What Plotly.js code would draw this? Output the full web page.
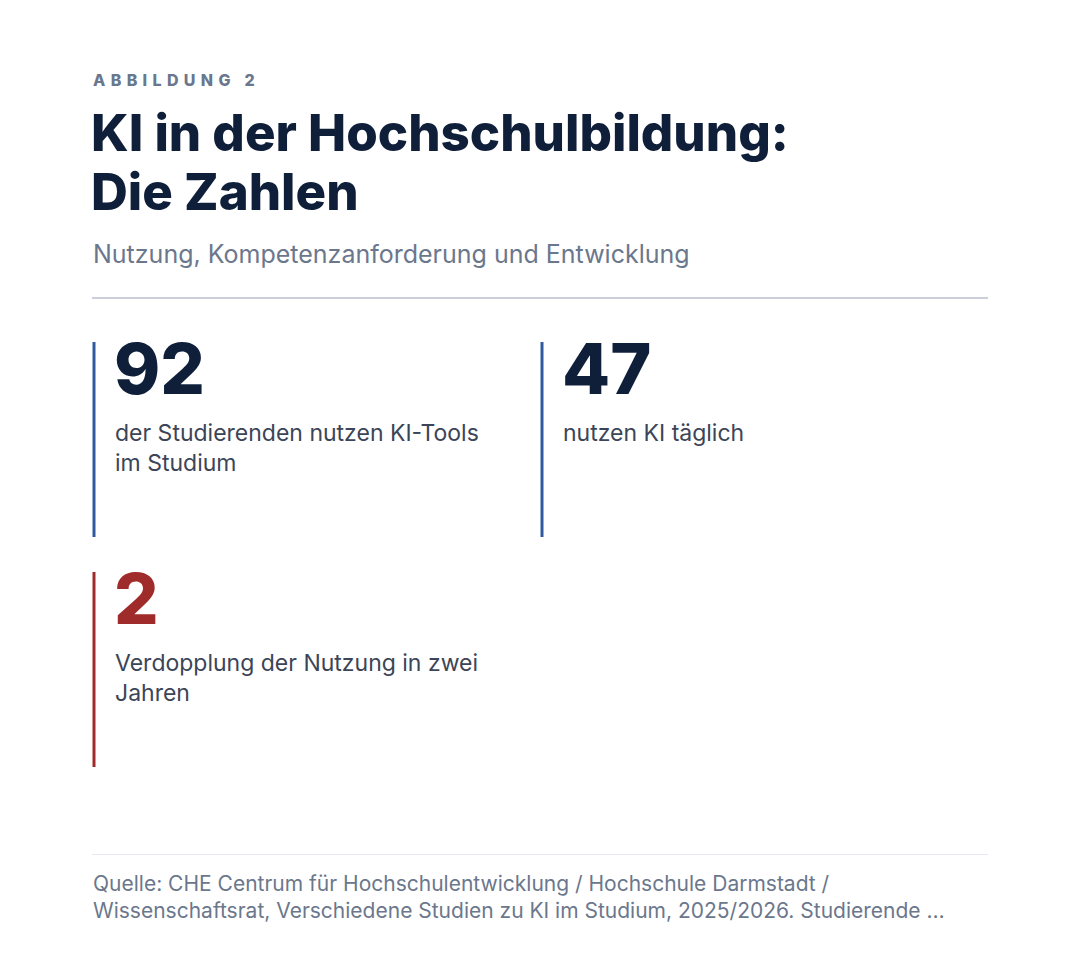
<!DOCTYPE html>
<html>
<head>
<meta charset="utf-8">
<script src="https://cdn.plot.ly/plotly-3.0.1.min.js"></script>
<style>
  html, body { margin: 0; padding: 0; background: #fff; }
  #chart { width: 1080px; height: 958px; }
</style>
</head>
<body>
<div id="chart"></div>
<script>
// figure texts
const kicker = "ABBILDUNG 2";
const titleLines = ["KI in der Hochschulbildung:", "Die Zahlen"];
const subtitle = "Nutzung, Kompetenzanforderung und Entwicklung";
const sourceLines = [
  "Quelle: CHE Centrum für Hochschulentwicklung / Hochschule Darmstadt /",
  "Wissenschaftsrat, Verschiedene Studien zu KI im Studium, 2025/2026. Studierende …",
];

// key figures
const kpiValues = [92, 47, 2];
const kpiLabels = [
  "der Studierenden nutzen KI-Tools<br>im Studium",
  "nutzen KI täglich",
  "Verdopplung der Nutzung in zwei<br>Jahren",
];
const kpiTone = ["blue", "blue", "red"];

const NAVY = "#0f1f3a";
const SLATE = "#6b778c";
const TEXT = "#3c4557";
const TONES = { blue: "#2f5b9e", red: "#a02b2b" };
const FONT = "Inter, 'Noto Sans', sans-serif";

// layout of the card grid (pixels, top-left origin)
const left = 92, right = 988;
const cardX0 = 93, cardY0 = 342, colStep = 448, rowStep = 230, barH = 195;

// letter-spaced kicker
const spaced = kicker.split("").join("\u2004");

const annotations = [
  { x: left, y: 69, text: spaced, font: { size: 16, color: SLATE, weight: 800 } },
  { x: left - 2, y: 101, text: titleLines[0], font: { size: 51, color: NAVY, weight: 800 } },
  { x: left - 2, y: 160, text: titleLines[1], font: { size: 51, color: NAVY, weight: 800 } },
  { x: left, y: 238, text: subtitle, font: { size: 25, color: SLATE } },
  { x: left, y: 870, text: sourceLines.join("<br>"), font: { size: 21, color: SLATE } },
];

const shapes = [
  { type: "line", x0: left, x1: right, y0: 298, y1: 298, line: { color: "#b8bfcc", width: 1.5 } },
  { type: "line", x0: left, x1: right, y0: 854.5, y1: 854.5, line: { color: "#e6e9ef", width: 1 } },
];

kpiValues.forEach((v, i) => {
  const cx = cardX0 + (i % 2) * colStep;
  const cy = cardY0 + Math.floor(i / 2) * rowStep;
  shapes.push({
    type: "line", x0: cx + 1, x1: cx + 1, y0: cy, y1: cy + barH,
    line: { color: TONES[kpiTone[i]], width: 3 },
  });
  annotations.push({
    x: cx + 20, y: cy - 17, text: String(v),
    font: { size: 70, color: kpiTone[i] === "red" ? TONES.red : NAVY, weight: 800 },
  });
  annotations.push({
    x: cx + 21, y: cy + 76, text: kpiLabels[i],
    font: { size: 23, color: TEXT },
  });
});

annotations.forEach((a) => {
  Object.assign(a, {
    xref: "x", yref: "y", xanchor: "left", yanchor: "top",
    align: "left", showarrow: false, borderpad: 0,
  });
  a.font.family = FONT;
});

shapes.forEach((s) => Object.assign(s, { xref: "x", yref: "y", layer: "above" }));

Plotly.newPlot(
  "chart",
  [],
  {
    width: 1080,
    height: 958,
    margin: { l: 0, r: 0, t: 0, b: 0, pad: 0 },
    paper_bgcolor: "#ffffff",
    plot_bgcolor: "#ffffff",
    showlegend: false,
    xaxis: { range: [0, 1080], visible: false, fixedrange: true },
    yaxis: { range: [958, 0], visible: false, fixedrange: true },
    annotations,
    shapes,
  },
  { displayModeBar: false, staticPlot: true }
);
</script>
</body>
</html>
